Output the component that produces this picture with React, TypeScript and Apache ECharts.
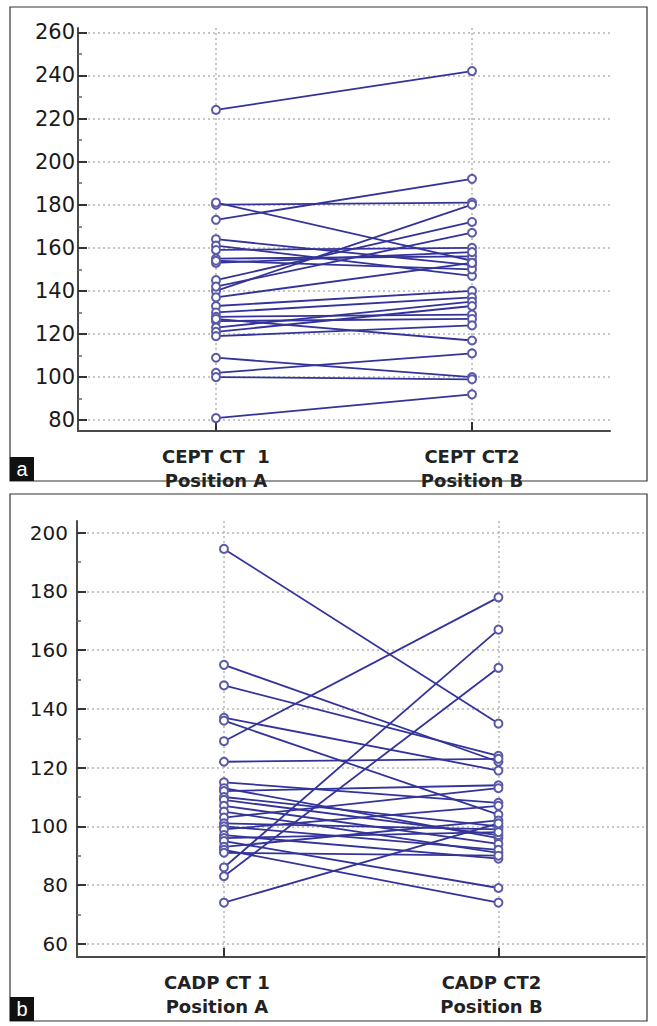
import React, { useEffect, useRef } from "react";
import * as echarts from "echarts";

// Panel a (CEPT)
const labelsA = ["CEPT CT  1\nPosition A", "CEPT CT2\nPosition B"];
const ticksA = [80, 100, 120, 140, 160, 180, 200, 220, 240, 260];
const minorA = [90, 110, 130, 150, 170, 190, 210, 230, 250];
const ceptPosA = [224, 180, 181, 173, 140, 164, 161, 159, 155, 153, 154, 145, 142, 137, 133, 130, 128, 126, 123, 121, 119, 127, 109, 102, 100, 81];
const ceptPosB = [242, 181, 154, 192, 180, 152, 147, 160, 156, 158, 150, 172, 167, 153, 140, 137, 129, 127, 135, 133, 124, 117, 100, 111, 99, 92];

// Panel b (CADP)
const labelsB = ["CADP CT 1\nPosition A", "CADP CT2\nPosition B"];
const ticksB = [60, 80, 100, 120, 140, 160, 180, 200];
const minorB = [70, 90, 110, 130, 150, 170, 190];
const cadpPosA = [194.5, 155, 148, 137, 136, 129, 122, 115, 113, 112, 110, 109, 107, 105, 103, 101, 100, 99, 97, 96, 95, 93, 92, 91, 86, 83, 74];
const cadpPosB = [135, 122, 124, 119, 104, 178, 123, 108, 96, 114, 100, 97, 94, 91, 113, 99, 92, 107, 89, 98, 79, 102, 74, 90, 167, 154, 101];

const LINE = "#33339a";
const MARK = "#5a5aa6";
const GRIDC = "#b4b4b4";
const AXISC = "#4a4a4a";
const FONT = "DejaVu Sans";

function pairSeries(a: number[], b: number[], xi: number, yi: number) {
  return a.map((v, i) => ({
    type: "line",
    xAxisIndex: xi,
    yAxisIndex: yi,
    data: [[1, v], [2, b[i]]],
    symbol: "emptyCircle",
    symbolSize: 8,
    showSymbol: true,
    lineStyle: { color: LINE, width: 1.8 },
    itemStyle: { color: MARK, borderColor: MARK, borderWidth: 1.4 },
    silent: true,
    z: 3,
  }));
}

function xAxisCfg(grid: number, min: number, max: number, labels: string[], pad: number[]) {
  return {
    type: "value",
    gridIndex: grid,
    min,
    max,
    axisLine: { show: true, onZero: false, lineStyle: { color: AXISC, width: 2 } },
    axisTick: { show: true, inside: true, length: 9, customValues: [1, 2], lineStyle: { color: "#333", width: 2 } },
    axisLabel: {
      customValues: [1, 2],
      formatter: (v: number) => labels[Math.round(v) - 1] || "",
      fontFamily: FONT,
      fontWeight: "bold",
      fontSize: 18,
      lineHeight: 24,
      color: "#222",
      margin: 13,
      padding: pad,
    },
    splitLine: { show: true, lineStyle: { color: GRIDC, type: [2, 3], width: 1.5 } },
  };
}

function yAxisCfg(grid: number, min: number, max: number, ticks: number[], fontSize: number, margin: number) {
  return {
    type: "value",
    gridIndex: grid,
    position: "left",
    min,
    max,
    axisLine: { show: true, onZero: false, lineStyle: { color: AXISC, width: 2 } },
    axisTick: { show: true, inside: true, length: 9, customValues: ticks, lineStyle: { color: "#333", width: 2 } },
    axisLabel: { customValues: ticks, fontFamily: FONT, fontSize, color: "#1a1a1a", margin },
    splitLine: { show: true, lineStyle: { color: GRIDC, type: [2, 3], width: 1.5 } },
  };
}

function yMinorCfg(grid: number, min: number, max: number, ticks: number[]) {
  return {
    type: "value",
    gridIndex: grid,
    position: "left",
    offset: 0,
    min,
    max,
    axisLine: { show: false, onZero: false },
    axisTick: { show: true, inside: true, length: 4, customValues: ticks, lineStyle: { color: "#666", width: 1.5 } },
    axisLabel: { show: false },
    splitLine: { show: false },
  };
}

export default function App() {
  const ref = useRef<HTMLDivElement>(null);
  useEffect(() => {
    if (!ref.current) return;
    const chart = echarts.init(ref.current, undefined, { renderer: "svg" });
    chart.setOption({
      animation: false,
      backgroundColor: "#ffffff",
      grid: [
        { left: 78, top: 28, width: 532, height: 403 },
        { left: 77, top: 521, width: 568, height: 436 },
      ],
      xAxis: [
        xAxisCfg(0, 0.461, 2.539, labelsA, [0, 0, 0, 0]),
        xAxisCfg(1, 0.4645, 2.534, labelsB, [0, 14, 0, 0]),
      ],
      yAxis: [
        yAxisCfg(0, 75, 262, ticksA, 21, 3),
        yMinorCfg(0, 75, 262, minorA),
        yAxisCfg(1, 55.5, 204, ticksB, 20, 9),
        yMinorCfg(1, 55.5, 204, minorB),
      ],
      graphic: [
        { type: "rect", shape: { x: 10, y: 7, width: 637, height: 474 }, style: { fill: "none", stroke: "#333", lineWidth: 1.2 }, silent: true },
        { type: "rect", shape: { x: 10, y: 494, width: 637, height: 527 }, style: { fill: "none", stroke: "#333", lineWidth: 1.2 }, silent: true },
        { type: "rect", shape: { x: 10, y: 457, width: 24, height: 24 }, style: { fill: "#111" }, silent: true },
        { type: "text", x: 22, y: 469, style: { text: "a", fill: "#fff", font: "20px Liberation Sans", align: "center", verticalAlign: "middle" }, silent: true },
        { type: "rect", shape: { x: 10, y: 997, width: 24, height: 24 }, style: { fill: "#111" }, silent: true },
        { type: "text", x: 22, y: 1009, style: { text: "b", fill: "#fff", font: "20px Liberation Sans", align: "center", verticalAlign: "middle" }, silent: true },
      ],
      series: [
        ...pairSeries(ceptPosA, ceptPosB, 0, 0),
        ...pairSeries(cadpPosA, cadpPosB, 1, 2),
      ],
    });
    return () => chart.dispose();
  }, []);
  return (
    <div
      ref={ref}
      style={{ position: "absolute", left: 0, top: 0, width: 657, height: 1026, background: "#fff" }}
    />
  );
}
